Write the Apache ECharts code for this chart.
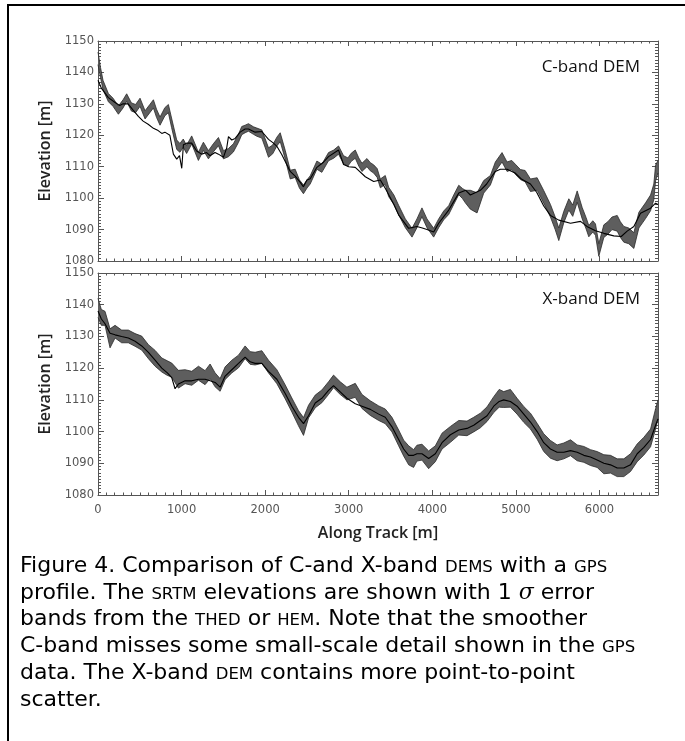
<!DOCTYPE html>
<html><head><meta charset="utf-8">
<script src="https://cdn.jsdelivr.net/npm/echarts@6/dist/echarts.min.js"></script>
<style>html,body{margin:0;padding:0;background:#fff}#c{width:685px;height:741px}</style>
</head><body><div id="c"></div>
<script>
// ---- data ----
const xTicks = [0, 1000, 2000, 3000, 4000, 5000, 6000];
const yTicks = [1080, 1090, 1100, 1110, 1120, 1130, 1140, 1150];
const panelLabels = ['C-band DEM', 'X-band DEM'];
// SRTM C-band: [along-track m, elevation m, 1 sigma m]
const cBandRows = [[0,1144.5,2],[30,1140,1.6],[60,1136,1.5],[124,1132,1.3],[180,1130.5,1.3],[244,1128,1.3],[300,1130,1.3],[343,1132,1.2],[400,1129,1.3],[450,1128.5,1.3],[503,1130.5,1.3],[563,1126.5,1.3],[620,1128.5,1.3],[663,1130,1.3],[700,1127,1.3],[742,1124.5,1.3],[800,1127.5,1.3],[842,1128.5,1.3],[880,1124,1.5],[942,1117,1.5],[980,1116,1.4],[1020,1117.5,1.3],[1060,1115.5,1.3],[1121,1118.5,1.3],[1160,1116,1.3],[1201,1113.3,1.3],[1261,1116.5,1.3],[1321,1113.8,1.3],[1380,1116,1.3],[1441,1118,1.3],[1501,1113.8,1.3],[1561,1114.5,1.3],[1620,1116,1.3],[1680,1119,1.3],[1720,1121.5,1.3],[1760,1122,1.2],[1800,1122.5,1.2],[1860,1121.5,1.2],[1900,1121,1.3],[1960,1120.4,1.3],[2000,1117.5,1.4],[2040,1114.5,1.5],[2090,1115.5,1.4],[2140,1118,1.4],[2180,1119.4,1.4],[2240,1113.8,1.4],[2300,1107.5,1.4],[2359,1107.9,1.3],[2410,1104.5,1.3],[2458,1102.8,1.4],[2500,1104.5,1.3],[2539,1105.8,1.3],[2619,1110.5,1.3],[2678,1109.5,1.3],[2758,1113.2,1.3],[2820,1114,1.3],[2878,1115.3,1.3],[2938,1112.2,1.3],[2990,1111.5,1.3],[3030,1113,1.3],[3078,1114,1.3],[3120,1111.5,1.3],[3158,1109.8,1.3],[3218,1111.3,1.3],[3258,1110,1.3],[3298,1109.3,1.3],[3340,1108,1.4],[3378,1104.7,1.4],[3437,1105.8,1.4],[3477,1102,1.5],[3540,1099.5,1.5],[3597,1096.2,1.5],[3677,1092,1.4],[3757,1089,1.4],[3816,1092,1.4],[3876,1095.5,1.4],[3936,1092,1.4],[4016,1089,1.4],[4076,1092,1.4],[4136,1094.5,1.4],[4196,1096.2,1.4],[4256,1099.5,1.5],[4316,1102.6,1.5],[4360,1101.5,1.6],[4395,1100.5,2],[4455,1099.5,3],[4535,1098.5,3.2],[4615,1103.6,2],[4695,1105.7,1.5],[4754,1110,1.5],[4834,1113,1.5],[4894,1110,1.5],[4950,1110.5,1.5],[5000,1109,1.6],[5054,1107.5,1.6],[5110,1107,1.8],[5174,1104.1,2],[5254,1104.5,2],[5333,1100.4,2],[5413,1096,2],[5470,1092,2],[5513,1088.5,2],[5573,1094,1.8],[5633,1098,1.8],[5680,1096,1.8],[5733,1100.5,1.8],[5793,1095.2,1.8],[5840,1092,1.8],[5872,1089.5,1.8],[5920,1091,1.8],[5952,1090,1.8],[5992,1083.5,2],[6052,1089.5,2],[6100,1090.5,2],[6150,1092,2],[6212,1092,2.5],[6250,1090,2.5],[6291,1088.5,2.5],[6350,1088,2.5],[6411,1086.5,2.5],[6471,1093,2.5],[6551,1096,2.5],[6611,1098.5,2.5],[6650,1102,2.5],[6671,1108,2.5],[6700,1110,2]];
// GPS profile shown in the C-band panel: [along-track m, elevation m]
const gpsC = [[0,1137.5],[40,1135],[124,1132],[200,1130.5],[260,1129.5],[300,1130],[360,1130],[420,1128],[483,1126],[540,1124.5],[600,1123.5],[663,1122.2],[720,1121.5],[763,1120.6],[800,1121],[823,1121.5],[860,1120],[902,1114],[942,1112.4],[975,1113.5],[1002,1109.5],[1022,1117],[1060,1117.5],[1121,1117.5],[1180,1115],[1240,1114],[1300,1114.5],[1340,1113.5],[1400,1114.5],[1441,1114],[1501,1113],[1540,1116],[1561,1119.6],[1600,1118.5],[1641,1119],[1700,1121],[1760,1122],[1800,1122],[1880,1121],[1960,1121.2],[2040,1118.7],[2100,1117.5],[2140,1116.5],[2200,1113.8],[2300,1108.5],[2359,1107],[2420,1105],[2458,1103.6],[2500,1105.8],[2539,1106.2],[2619,1109.8],[2700,1111.5],[2758,1113.2],[2878,1115.3],[2938,1110.7],[3000,1110],[3078,1109.8],[3198,1106.8],[3298,1105.3],[3378,1105.8],[3440,1103],[3540,1098],[3600,1094.5],[3717,1090.4],[3816,1091],[3880,1090.5],[3936,1090],[4016,1089.2],[4076,1092],[4196,1096.2],[4316,1101.6],[4400,1102.5],[4455,1101],[4575,1102.5],[4650,1104.5],[4700,1106.5],[4754,1108.5],[4814,1109.2],[4894,1109.2],[4990,1108],[5070,1106],[5174,1104.5],[5250,1101.8],[5333,1097.5],[5413,1094.5],[5513,1093],[5653,1092],[5773,1092.6],[5850,1091],[5952,1089.6],[6052,1088.8],[6172,1088],[6260,1087.8],[6331,1089.5],[6411,1091],[6491,1095.2],[6611,1096.8],[6671,1098.4],[6700,1098]];
// SRTM X-band: [along-track m, elevation m, 1 sigma m]
const xBandRows = [[0,1139,3],[40,1136,2.5],[84,1135.7,2.2],[144,1129.4,3],[204,1131.5,2],[283,1130,2],[363,1130,2],[443,1128.9,2],[523,1127.9,2.2],[603,1125.2,2.2],[683,1123.1,2.5],[763,1121,2.2],[830,1120,2.3],[882,1119.4,2.2],[962,1116.5,2.8],[1042,1117.3,2.2],[1122,1116.8,2.2],[1202,1118.4,2.2],[1281,1117,2.2],[1341,1119,2.3],[1401,1116.3,2.2],[1461,1114.7,2],[1521,1118.4,2],[1601,1120.5,2],[1681,1122.1,2],[1760,1125,2],[1820,1123.2,2],[1880,1123,2],[1960,1123.5,2],[2040,1120.5,2],[2140,1117.3,2.2],[2240,1112.5,2.2],[2319,1108.4,2.2],[2399,1104.2,2.4],[2459,1101.6,2.8],[2519,1106.3,2],[2599,1109.5,2],[2678,1111.1,2],[2758,1113.7,2],[2818,1115.8,2],[2898,1113.7,2],[2978,1112,2],[3078,1113,2.2],[3158,1109.5,2.2],[3258,1107.4,2.3],[3358,1105.8,2.3],[3437,1104.8,2.3],[3517,1102.2,2.3],[3597,1098,2.5],[3657,1094.8,2.5],[3717,1092.5,3],[3776,1091.5,2.8],[3816,1093.2,2.5],[3876,1093.5,2.5],[3956,1091.1,2.8],[4036,1093,2.5],[4116,1097,2.5],[4216,1099.1,2.5],[4316,1101.2,2.3],[4415,1101,2.3],[4495,1102.2,2.3],[4575,1103.5,2.3],[4655,1105.5,2.3],[4735,1108.5,2.5],[4800,1110.5,2.8],[4854,1110.1,2.5],[4934,1110.5,2.8],[5014,1108,2.5],[5094,1105.4,2.5],[5174,1103.3,2.5],[5254,1100.1,2.5],[5333,1096.5,2.8],[5413,1094.4,2.8],[5493,1093.3,2.5],[5573,1093.9,2.5],[5653,1094.9,2.5],[5733,1093.3,2.5],[5813,1092.8,2.5],[5892,1091.8,2.5],[5972,1091.2,2.5],[6052,1089.7,3],[6132,1089.7,2.8],[6212,1088.6,2.8],[6291,1088.6,2.8],[6371,1090.2,2.8],[6451,1093.3,2.8],[6531,1095.4,2.8],[6611,1098,2.8],[6671,1104,3.2],[6700,1107,3]];
// GPS profile shown in the X-band panel
const gpsX = [[0,1138],[40,1135.5],[84,1134],[144,1131],[204,1130.5],[283,1130],[363,1129.5],[443,1128.5],[523,1127],[603,1125],[683,1122.5],[763,1120],[830,1118.5],[882,1117],[922,1113.5],[962,1115],[1042,1116],[1122,1116],[1202,1116.5],[1281,1116.5],[1341,1116],[1401,1115.5],[1461,1114],[1521,1117.5],[1601,1119.5],[1681,1121.5],[1760,1123.5],[1820,1122],[1880,1121.5],[1960,1121.5],[2040,1119],[2140,1116.5],[2240,1112],[2319,1108],[2399,1104.5],[2459,1102.5],[2519,1105],[2599,1109],[2678,1110.5],[2758,1113],[2818,1114.5],[2898,1112.5],[2978,1110.5],[3078,1108.8],[3158,1108],[3258,1107],[3358,1105.5],[3437,1104.5],[3517,1101.5],[3597,1097.5],[3657,1094.5],[3717,1092.5],[3776,1092.5],[3816,1093],[3876,1093],[3956,1091.5],[4036,1093],[4116,1096.5],[4216,1099],[4316,1100.5],[4415,1101],[4495,1102],[4575,1103.5],[4655,1105],[4735,1108],[4800,1109.5],[4854,1110],[4934,1109.5],[5014,1108],[5094,1105.5],[5174,1103],[5254,1100],[5333,1096.5],[5413,1094.5],[5493,1093.5],[5573,1093.5],[5653,1094],[5733,1093.5],[5813,1092.5],[5892,1092],[5972,1091],[6052,1090],[6132,1089.5],[6212,1088.5],[6291,1088.5],[6371,1089.5],[6451,1093],[6531,1095],[6611,1097.5],[6671,1102],[6700,1104]];
const captionLines = [
  '{n|Figure 4. Comparison of C-and X-band }{s|DEMS}{n| with a }{s|GPS}',
  '{n|profile. The }{s|SRTM}{n| elevations are shown with 1 }{i|σ}{n| error}',
  '{n|bands from the }{s|THED}{n| or }{s|HEM}{n|. Note that the smoother}',
  '{n|C-band misses some small-scale detail shown in the }{s|GPS}',
  '{n|data. The X-band }{s|DEM}{n| contains more point-to-point}',
  '{n|scatter.}'
];

// ---- chart ----
const X_MIN = 0, X_MAX = 6700, Y_MIN = yTicks[0], Y_MAX = yTicks[yTicks.length - 1];
const AX = '#555';
const labelFont = {fontFamily: 'DejaVu Sans', fontSize: 11.5, color: '#555'};
const nameFont = {fontFamily: 'Open Sans', fontWeight: 600, fontSize: 16, color: '#222'};
const grids = [
  {left: 98, top: 41, width: 560, height: 220},
  {left: 98, top: 273, width: 560, height: 222}
];
const plain = v => String(v);
function xAx(grid, pos, labels) {
  return {
    type: 'value', gridIndex: grid, position: pos, min: X_MIN, max: X_MAX, interval: 1000,
    axisLine: {show: true, onZero: false, lineStyle: {color: AX, width: 1}},
    axisTick: {show: true, inside: true, length: 5, lineStyle: {color: AX}},
    minorTick: {show: true, splitNumber: 10, length: 2.5, lineStyle: {color: AX}},
    splitLine: {show: false},
    axisLabel: labels ? Object.assign({show: true, margin: 9, showMaxLabel: false, formatter: plain}, labelFont) : {show: false},
    name: labels ? 'Along Track [m]' : '', nameLocation: 'middle', nameGap: 30, nameTextStyle: nameFont
  };
}
function yAx(grid, pos, labels) {
  return {
    type: 'value', gridIndex: grid, position: pos, min: Y_MIN, max: Y_MAX, interval: 10,
    axisLine: {show: true, onZero: false, lineStyle: {color: AX, width: 1}},
    axisTick: {show: true, inside: true, length: 6, lineStyle: {color: AX}},
    minorTick: {show: true, splitNumber: 10, length: 3, lineStyle: {color: AX}},
    splitLine: {show: false},
    axisLabel: labels ? Object.assign({show: true, margin: 4, formatter: plain}, labelFont) : {show: false},
    name: labels ? 'Elevation [m]' : '', nameLocation: 'middle', nameGap: 35, nameTextStyle: nameFont
  };
}
// 1-sigma band: one polygon built through the axis scales (api.coord)
function bandSeries(rows, axisIdx) {
  return {
    type: 'custom', xAxisIndex: axisIdx, yAxisIndex: axisIdx, silent: true, z: 2,
    data: rows.map(r => [r[0], r[1] - r[2], r[1] + r[2]]),
    encode: {x: 0, y: [1, 2]},
    renderItem: function (params, api) {
      if (params.dataIndex !== 0) return null;
      const n = params.dataInsideLength;
      const up = [], lo = [];
      for (let j = 0; j < n; j++) {
        const d = api.value(0, j);
        lo.push(api.coord([d, api.value(1, j)]));
        up.push(api.coord([d, api.value(2, j)]));
      }
      const poly = up.concat(lo.slice().reverse());
      return {type: 'group', children: [
        {type: 'polygon', shape: {points: poly}, style: {fill: '#5e5e5e', stroke: null}},
        {type: 'polyline', shape: {points: up}, style: {stroke: '#2a2a2a', lineWidth: 0.8, fill: null}},
        {type: 'polyline', shape: {points: lo}, style: {stroke: '#2a2a2a', lineWidth: 0.8, fill: null}}
      ]};
    }
  };
}
function gpsSeries(pts, axisIdx) {
  return {type: 'line', xAxisIndex: axisIdx, yAxisIndex: axisIdx, data: pts, symbol: 'none',
          lineStyle: {color: '#000', width: 1.1}, z: 3, silent: true};
}
const titleStyle = {fontFamily: 'Open Sans', fontWeight: 'normal', fontSize: 17, color: '#111'};
const chart = echarts.init(document.getElementById('c'), null, {renderer: 'canvas'});
chart.setOption({
  animation: false,
  backgroundColor: '#fff',
  title: [
    {text: panelLabels[0], right: 40, top: 54, textStyle: titleStyle},
    {text: panelLabels[1], right: 40, top: 286, textStyle: titleStyle}
  ],
  grid: grids,
  xAxis: [xAx(0, 'bottom', false), xAx(0, 'top', false), xAx(1, 'bottom', true), xAx(1, 'top', false)],
  yAxis: [yAx(0, 'left', true), yAx(0, 'right', false), yAx(1, 'left', true), yAx(1, 'right', false)],
  series: [bandSeries(cBandRows, 0), gpsSeries(gpsC, 0), bandSeries(xBandRows, 2), gpsSeries(gpsX, 2)],
  graphic: [
    {type: 'line', shape: {x1: 8, y1: 5, x2: 685, y2: 5}, style: {stroke: '#000', lineWidth: 2}, silent: true},
    {type: 'line', shape: {x1: 8, y1: 4, x2: 8, y2: 741}, style: {stroke: '#000', lineWidth: 2}, silent: true},
    {type: 'text', left: 20, top: 555, silent: true,
     style: {
       text: captionLines.join('\n'),
       rich: {
         n: {fontFamily: 'DejaVu Sans', fontSize: 22, color: '#111', lineHeight: 26.8},
         s: {fontFamily: 'DejaVu Sans', fontSize: 16.5, color: '#111', lineHeight: 26.8, padding: [3, 0, 0, 0]},
         i: {fontFamily: 'DejaVu Serif', fontStyle: 'italic', fontSize: 22, color: '#111', lineHeight: 26.8}
       }
     }}
  ]
});
</script></body></html>
